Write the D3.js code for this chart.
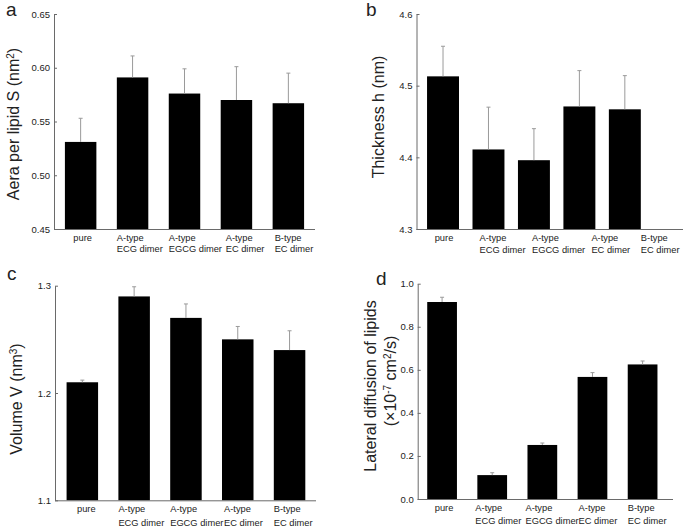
<!DOCTYPE html>
<html>
<head>
<meta charset="utf-8">
<script src="https://cdn.jsdelivr.net/npm/d3@7"></script>
<style>
  body { margin: 0; background: #fff; }
  svg { font-family: "Liberation Sans", Arial, sans-serif; }
</style>
</head>
<body>
<div id="chart"></div>
<script>
// categories (two-line labels)
var categories = ["pure", "A-type ECG dimer", "A-type EGCG dimer", "A-type EC dimer", "B-type EC dimer"];
var catLine1 = ["pure", "A-type", "A-type", "A-type", "B-type"];
var catLine2 = ["", "ECG dimer", "EGCG dimer", "EC dimer", "EC dimer"];

// a: area per lipid (nm^2)
var areaVals = [0.531, 0.591, 0.576, 0.570, 0.567];
var areaErr  = [0.022, 0.020, 0.023, 0.031, 0.028];
var areaTicks = [0.45, 0.50, 0.55, 0.60, 0.65];

// b: thickness (nm)
var thickVals = [4.513, 4.411, 4.396, 4.471, 4.467];
var thickErr  = [0.042, 0.059, 0.044, 0.050, 0.047];
var thickTicks = [4.3, 4.4, 4.5, 4.6];

// c: volume (nm^3)
var volVals = [1.210, 1.290, 1.270, 1.250, 1.240];
var volErr  = [0.002, 0.009, 0.013, 0.012, 0.018];
var volTicks = [1.1, 1.2, 1.3];

// d: lateral diffusion (1e-7 cm^2/s)
var diffVals = [0.915, 0.111, 0.251, 0.567, 0.625];
var diffErr  = [0.022, 0.011, 0.009, 0.020, 0.016];
var diffTicks = [0.0, 0.2, 0.4, 0.6, 0.8, 1.0];

var W = 685, H = 527;
var axisColor = "#6a6a6a", errColor = "#9a9a9a", textColor = "#222";

var svg = d3.select("#chart").append("svg")
    .attr("width", W).attr("height", H);

function drawPanel(p) {
    var g = svg.append("g");
    var x = d3.scaleBand()
        .domain(categories)
        .range([p.x0, p.x1])
        .paddingInner(p.pi).paddingOuter(p.po).align(p.align);
    var y = d3.scaleLinear()
        .domain(p.domain)
        .range([p.y1, p.y0]);
    var bw = x.bandwidth();

    // bars
    g.selectAll("rect.bar").data(p.vals).enter().append("rect")
        .attr("class", "bar")
        .attr("x", function (d, i) { return x(categories[i]); })
        .attr("width", bw)
        .attr("y", function (d) { return y(d); })
        .attr("height", function (d) { return y(p.domain[0]) - y(d); })
        .style("fill", "#000");

    // error bars (upper only)
    var eb = g.selectAll("g.err").data(p.vals).enter().append("g").attr("class", "err");
    eb.append("line")
        .attr("x1", function (d, i) { return x(categories[i]) + bw / 2; })
        .attr("x2", function (d, i) { return x(categories[i]) + bw / 2; })
        .attr("y1", function (d) { return y(d); })
        .attr("y2", function (d, i) { return y(d + p.err[i]); })
        .style("stroke", errColor).style("stroke-width", 1);
    eb.append("line")
        .attr("x1", function (d, i) { return x(categories[i]) + bw / 2 - 2; })
        .attr("x2", function (d, i) { return x(categories[i]) + bw / 2 + 2; })
        .attr("y1", function (d, i) { return y(d + p.err[i]); })
        .attr("y2", function (d, i) { return y(d + p.err[i]); })
        .style("stroke", errColor).style("stroke-width", 1);

    // y axis (ticks point inward)
    var yAxis = d3.axisLeft(y).tickValues(p.ticks).tickFormat(d3.format(p.fmt))
        .tickSizeInner(-3).tickSizeOuter(0).tickPadding(4);
    var ya = g.append("g").attr("transform", "translate(" + p.x0 + ",0)").call(yAxis);
    ya.select(".domain").style("stroke", axisColor);
    ya.selectAll(".tick line").style("stroke", axisColor);
    ya.selectAll(".tick text").style("font-size", "9.5px").style("fill", textColor)
        .attr("x", -4).style("font-family", "Liberation Sans, Arial, sans-serif");

    // x axis line
    g.append("line")
        .attr("x1", p.x0).attr("x2", p.x1)
        .attr("y1", y(p.domain[0]) + 0.5).attr("y2", y(p.domain[0]) + 0.5)
        .style("stroke", axisColor);

    // category labels: "pure" centred, others left-aligned near the bar
    var lab = g.selectAll("text.cat").data(categories).enter().append("text")
        .attr("class", "cat")
        .attr("text-anchor", function (d, i) { return i === 0 ? "middle" : "start"; })
        .attr("y", y(p.domain[0]) + 12)
        .style("font-size", "9.3px").style("fill", textColor);
    function lx(d, i) {
        return i === 0 ? x(d) + bw / 2 + p.lblDx[0] : x(d) + p.lblDx[i];
    }
    lab.append("tspan").attr("x", lx)
        .text(function (d, i) { return catLine1[i]; });
    lab.append("tspan").attr("x", lx)
        .attr("dy", p.lineGap)
        .text(function (d, i) { return catLine2[i]; });

    // y title
    p.title.forEach(function (line) {
        var t = g.append("text")
            .attr("transform", "translate(" + line.x + "," + line.y + ") rotate(-90)")
            .attr("text-anchor", "middle")
            .style("font-size", "16px").style("fill", textColor);
        line.parts.forEach(function (part) {
            var s = t.append("tspan").text(part.t);
            if (part.sup) s.attr("baseline-shift", "super").style("font-size", "10px");
        });
    });

    // panel letter
    g.append("text")
        .attr("x", p.letterX).attr("y", p.letterY)
        .style("font-size", "19px").style("fill", textColor)
        .text(p.letter);
}

drawPanel({
    letter: "a", letterX: 6, letterY: 16,
    x0: 54, x1: 315, y0: 14, y1: 229, pi: 0.394, po: 0.21, align: 0.5,
    domain: [0.45, 0.65], ticks: areaTicks, fmt: ".2f",
    vals: areaVals, err: areaErr, lblDx: [2, 0, 0, 5, 2], lineGap: 11,
    title: [{ x: 19, y: 124, parts: [{ t: "Aera per lipid S (nm" }, { t: "2", sup: true }, { t: ")" }] }]
});
drawPanel({
    letter: "b", letterX: 366, letterY: 16,
    x0: 416.5, x1: 683, y0: 14, y1: 229, pi: 0.297, po: 0.58, align: 0.2,
    domain: [4.3, 4.6], ticks: thickTicks, fmt: ".1f",
    vals: thickVals, err: thickErr, lblDx: [1, 7, 14, 28, 32], lineGap: 12,
    title: [{ x: 384, y: 117, parts: [{ t: "Thickness h (nm)" }] }]
});
drawPanel({
    letter: "c", letterX: 7, letterY: 280,
    x0: 55, x1: 316, y0: 285.7, y1: 500.3, pi: 0.392, po: 0.215, align: 0.52,
    domain: [1.1, 1.3], ticks: volTicks, fmt: ".1f",
    vals: volVals, err: volErr, lblDx: [4, 0, 0, 2, 0], lineGap: 13.5,
    title: [{ x: 22, y: 399, parts: [{ t: "Volume V (nm" }, { t: "3", sup: true }, { t: ")" }] }]
});
drawPanel({
    letter: "d", letterX: 376, letterY: 285,
    x0: 417.7, x1: 673, y0: 283.7, y1: 499, pi: 0.407, po: 0.25, align: 0.38,
    domain: [0, 1.0], ticks: diffTicks, fmt: ".1f",
    vals: diffVals, err: diffErr, lblDx: [2, -2, -2, 1, 0], lineGap: 13,
    title: [
        { x: 376, y: 386, parts: [{ t: "Lateral diffusion of lipids" }] },
        { x: 396, y: 381, parts: [{ t: "(\u00d710" }, { t: "-7", sup: true }, { t: " cm" }, { t: "2", sup: true }, { t: "/s)" }] }
    ]
});
</script>
</body>
</html>
